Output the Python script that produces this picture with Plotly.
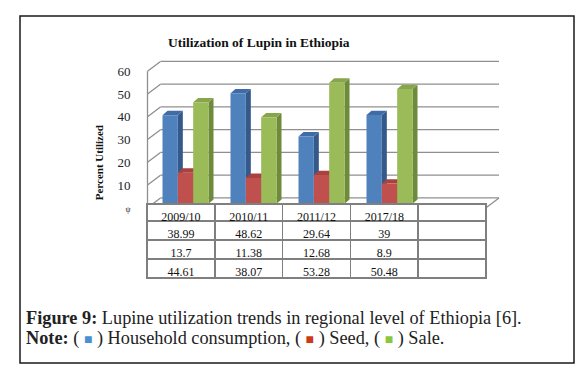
import plotly.graph_objects as go

# ---------------- data ----------------
categories = ["2009/10", "2010/11", "2011/12", "2017/18"]
household = [38.99, 48.62, 29.64, 39]
seed = [13.7, 11.38, 12.68, 8.9]
sale = [44.61, 38.07, 53.28, 50.48]
series_names = ["Household consumption", "Seed", "Sale"]
y_ticks = [0, 10, 20, 30, 40, 50, 60]
y_tick_labels = ["<span style='font-size:8px'>ψ</span>", "10", "20", "30", "40", "50", "60"]

# ---------------- styling / geometry constants ----------------
W, H = 585, 367
FONT = "Liberation Serif, Times New Roman, serif"
front_cols = ["#4F81BD", "#C0504D", "#9BBB59"]
side_cols = ["#35598A", "#8E3734", "#6E8A3B"]
top_cols = ["#3F6CA6", "#A9423F", "#87A54B"]
grid_col = "#8f8f8f"

PX_CAT = 68.0          # pixels per category
CAT0_PX = 173.0        # pixel x of first category centre
PX_UNIT = 2.3          # pixels per value unit
ZERO_PX = 202.0        # pixel y of value 0 (front plane)
dom_l, dom_r, dom_t, dom_b = 137, 493, 48, 205

xr = [(dom_l - CAT0_PX) / PX_CAT, (dom_r - CAT0_PX) / PX_CAT]
yr = [(ZERO_PX - dom_b) / PX_UNIT, (ZERO_PX - dom_t) / PX_UNIT]

# depth of the 3D box (front -> back)
wall_dx, wall_dy = 13 / PX_CAT, 10 / PX_UNIT
front_left = (139.5 - CAT0_PX) / PX_CAT
front_right = (478 - CAT0_PX) / PX_CAT
back_right = xr[1] - 2 / PX_CAT
# bars sit at mid depth
bar_sx, bar_sy = 4.5 / PX_CAT, 4.0 / PX_UNIT
# bar thickness in depth
bd_x, bd_y = 5 / PX_CAT, 4.4 / PX_UNIT
group_w = 46 / PX_CAT
bar_w = group_w / 3

fig = go.Figure()
shapes = []

def line(x0, y0, x1, y1, color=grid_col, width=1.3):
    shapes.append(dict(type="line", xref="x", yref="y", x0=x0, y0=y0, x1=x1, y1=y1,
                       line=dict(color=color, width=width), layer="below"))

# walls & gridlines
for v in y_ticks:
    line(front_left, v, front_left + wall_dx, v + wall_dy)
    line(front_left + wall_dx, v + wall_dy, back_right, v + wall_dy)
line(front_left, 0, front_left, y_ticks[-1])
line(front_left, 0, front_right, 0)
line(front_right, 0, back_right, wall_dy)

series = [household, seed, sale]
xs = list(range(len(categories)))
for k, (name, vals) in enumerate(zip(series_names, series)):
    offs = -group_w / 2 + k * bar_w + bar_sx
    fig.add_trace(go.Bar(
        x=xs, y=vals, base=[bar_sy] * len(vals), name=name,
        offset=offs, width=bar_w,
        marker=dict(color=front_cols[k], line=dict(width=0)),
        showlegend=False, hoverinfo="skip"))
    for i, v in enumerate(vals):
        xl = i + offs
        xr_ = xl + bar_w
        b = bar_sy
        t = bar_sy + v
        # side face
        shapes.append(dict(type="path", xref="x", yref="y", layer="below",
                           path=f"M{xr_},{b} L{xr_+bd_x},{b+bd_y} L{xr_+bd_x},{t+bd_y} L{xr_},{t} Z",
                           fillcolor=side_cols[k], line=dict(width=0)))
        # top face
        shapes.append(dict(type="path", xref="x", yref="y", layer="below",
                           path=f"M{xl},{t} L{xl+bd_x},{t+bd_y} L{xr_+bd_x},{t+bd_y} L{xr_},{t} Z",
                           fillcolor=top_cols[k], line=dict(width=0)))

# outer border
shapes.append(dict(type="rect", xref="paper", yref="paper",
                   x0=12 / W, x1=566 / W, y0=1 - 359 / H, y1=1 - 8 / H,
                   line=dict(color="#1a1a1a", width=1.5)))

# data table
header_vals = categories + [""]
cell_vals = [[f"{a:g}", f"{b:g}", f"{c:g}"] for a, b, c in zip(household, seed, sale)] + [["", "", ""]]
fig.add_trace(go.Table(
    domain=dict(x=[139 / W, 479 / W], y=[1 - 295 / H, 1 - 198 / H]),
    columnwidth=[1] * 5,
    header=dict(values=header_vals, height=17, align="center",
                line=dict(color="#7f7f7f", width=1.6), fill_color="white",
                font=dict(family=FONT, size=12, color="#111")),
    cells=dict(values=cell_vals, height=19, align="center",
               line=dict(color="#7f7f7f", width=1.6), fill_color="white",
               font=dict(family=FONT, size=12, color="#111")),
))

annotations = [
    dict(text="<b>Utilization of Lupin in Ethiopia</b>", x=251 / W, y=1 - 35 / H,
         xref="paper", yref="paper", showarrow=False, xanchor="center", yanchor="middle",
         font=dict(family=FONT, size=13.5, color="#111")),
    dict(text="<b>Percent Utilized</b>", x=91 / W, y=1 - 157 / H, textangle=-90,
         xref="paper", yref="paper", showarrow=False, xanchor="center", yanchor="middle",
         font=dict(family=FONT, size=11, color="#111")),
    dict(text="<b>Figure 9:</b> Lupine utilization trends in regional level of Ethiopia [6].",
         x=16 / W, y=1 - 313 / H, xref="paper", yref="paper", showarrow=False,
         xanchor="left", yanchor="middle", font=dict(family=FONT, size=18.3, color="#222")),
    dict(text=("<b>Note:</b> ( <span style='color:#4a8fd4;font-size:14px'>■</span> ) Household consumption, "
               "( <span style='color:#cc3a1a;font-size:14px'>■</span> ) Seed, "
               "( <span style='color:#8cc63f;font-size:14px'>■</span> ) Sale."),
         x=16 / W, y=1 - 334 / H, xref="paper", yref="paper", showarrow=False,
         xanchor="left", yanchor="middle", font=dict(family=FONT, size=18.3, color="#222")),
]

fig.update_layout(
    width=W, height=H, margin=dict(l=0, r=0, t=0, b=0),
    paper_bgcolor="white", plot_bgcolor="white",
    barmode="overlay",
    shapes=shapes, annotations=annotations,
    xaxis=dict(domain=[dom_l / W, dom_r / W], range=xr, showgrid=False, zeroline=False,
               showticklabels=False, showline=False, fixedrange=True),
    yaxis=dict(domain=[1 - dom_b / H, 1 - dom_t / H], range=yr, showgrid=False, zeroline=False,
               tickvals=y_ticks, ticktext=y_tick_labels, ticks="outside", ticklen=11,
               tickcolor="rgba(0,0,0,0)",
               tickfont=dict(family=FONT, size=13, color="#222"), showline=False, fixedrange=True),
)

fig.write_html("out.html")
